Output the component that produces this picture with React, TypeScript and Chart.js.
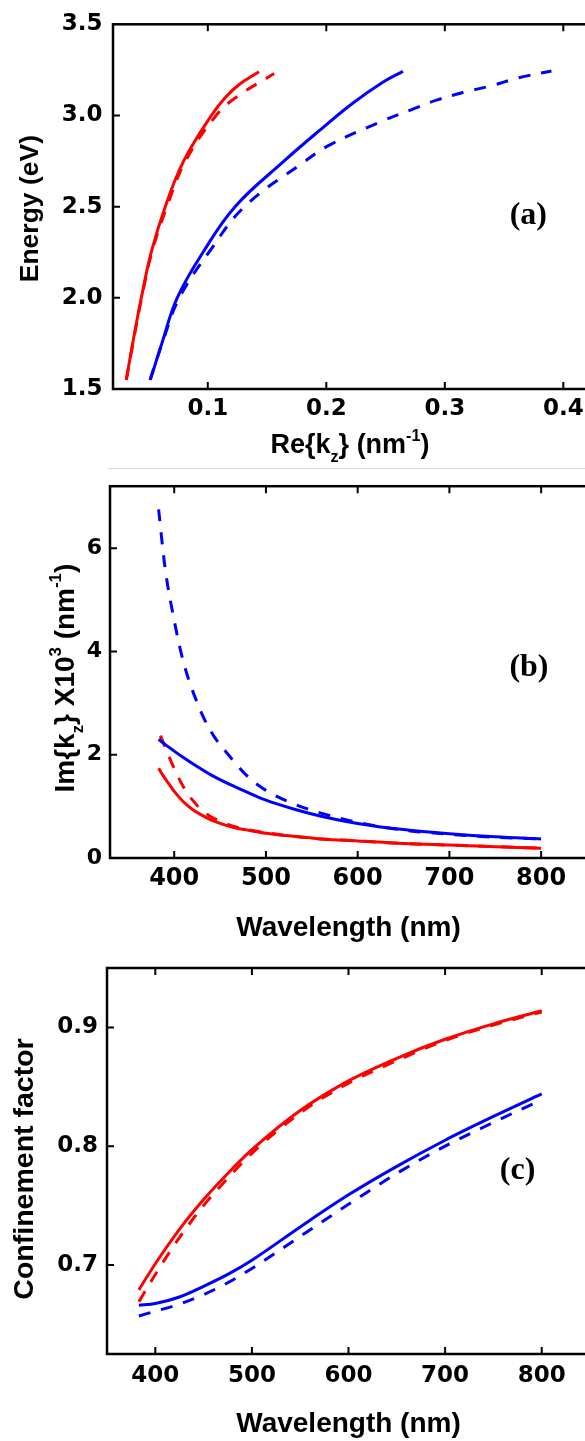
import React, { useEffect, useRef } from 'react';
import { Chart, registerables } from 'chart.js';

Chart.register(...registerables);

const SANS = '"Liberation Sans", Arial, Helvetica, sans-serif';
const TICK_SANS = '"DejaVu Sans", "Liberation Sans", Arial, sans-serif';
const SERIF = '"Liberation Serif", "Times New Roman", Times, serif';
const RED = '#ff0000';
const BLUE = '#0000ff';
const CANVAS_W = 640;

// ---------- Panel (a): Energy (eV) vs Re{kz} (nm^-1) ----------
const A_RED_SOLID_E = [1.55, 1.75, 2.0, 2.25, 2.5, 2.75, 3.0, 3.1, 3.17, 3.24];
const A_RED_SOLID_K = [0.0312, 0.0366, 0.0439, 0.0523, 0.0641, 0.0796, 0.103, 0.115, 0.1265, 0.1432];
const A_RED_DASH_E = [1.55, 1.75, 2.0, 2.25, 2.5, 2.75, 3.0, 3.1, 3.23];
const A_RED_DASH_K = [0.0312, 0.0368, 0.0442, 0.0528, 0.0655, 0.0812, 0.107, 0.124, 0.156];
const A_BLUE_SOLID_E = [1.55, 1.75, 2.0, 2.25, 2.5, 2.748, 2.911, 3.066, 3.184, 3.242];
const A_BLUE_SOLID_K = [0.0515, 0.0612, 0.0742, 0.096, 0.123, 0.164, 0.193, 0.222, 0.248, 0.2647];
const A_BLUE_DASH_E = [1.55, 1.75, 2.0, 2.25, 2.5, 2.744, 2.839, 2.971, 3.031, 3.084, 3.128, 3.164, 3.206, 3.244];
const A_BLUE_DASH_K = [0.0512, 0.0615, 0.076, 0.101, 0.131, 0.181, 0.203, 0.248, 0.2715, 0.293, 0.3165, 0.34, 0.362, 0.39];
const A_X_TICKS = [0.05, 0.1, 0.15, 0.2, 0.25, 0.3, 0.35, 0.4];
const A_Y_TICKS = [1.5, 1.75, 2.0, 2.25, 2.5, 2.75, 3.0, 3.25, 3.5];

// ---------- Panel (b): Im{kz} x10^3 vs wavelength ----------
const B_BLUE_DASH_WL = [383, 390, 400, 410, 425, 440, 460, 480, 500, 530, 560, 600, 650, 700, 750, 800];
const B_BLUE_DASH = [6.75, 5.62, 4.6, 3.8, 3.01, 2.45, 1.98, 1.58, 1.31, 1.05, 0.87, 0.69, 0.54, 0.46, 0.4, 0.37];
const B_BLUE_SOLID_WL = [383, 390, 400, 410, 425, 440, 460, 480, 500, 530, 560, 600, 650, 700, 750, 800];
const B_BLUE_SOLID = [2.3, 2.2, 2.07, 1.945, 1.77, 1.61, 1.43, 1.27, 1.12, 0.95, 0.81, 0.67, 0.55, 0.47, 0.41, 0.37];
const B_RED_SOLID_WL = [383, 387, 392, 400, 410, 420, 430, 440, 450, 465, 480, 500, 530, 560, 600, 650, 700, 750, 800];
const B_RED_SOLID = [1.74, 1.62, 1.49, 1.29, 1.09, 0.94, 0.83, 0.74, 0.67, 0.59, 0.54, 0.48, 0.42, 0.37, 0.33, 0.28, 0.25, 0.22, 0.19];
const B_RED_DASH_WL = [385, 390, 400, 410, 420, 430, 440, 450, 465, 480, 500, 530, 560, 600, 650, 700, 750, 800];
const B_RED_DASH = [2.37, 2.15, 1.73, 1.38, 1.12, 0.93, 0.8, 0.71, 0.61, 0.55, 0.49, 0.42, 0.37, 0.33, 0.28, 0.25, 0.22, 0.19];
const B_X_TICKS = [350, 400, 450, 500, 550, 600, 650, 700, 750, 800];
const B_Y_TICKS = [0, 1, 2, 3, 4, 5, 6, 7];

// ---------- Panel (c): Confinement factor vs wavelength ----------
const C_WL = [383, 400, 425, 450, 475, 500, 550, 600, 650, 700, 750, 800];
const C_RED_SOLID = [0.679, 0.701, 0.73, 0.755, 0.777, 0.797, 0.83, 0.855, 0.874, 0.89, 0.903, 0.914];
const C_RED_DASH = [0.669, 0.692, 0.723, 0.75, 0.773, 0.794, 0.828, 0.853, 0.872, 0.889, 0.902, 0.913];
const C_BLUE_SOLID = [0.666, 0.6675, 0.673, 0.682, 0.692, 0.704, 0.732, 0.759, 0.783, 0.805, 0.825, 0.844];
const C_BLUE_DASH = [0.657, 0.661, 0.667, 0.675, 0.685, 0.697, 0.724, 0.751, 0.777, 0.8, 0.82, 0.839];
const C_X_TICKS = [400, 450, 500, 550, 600, 650, 700, 750, 800];
const C_Y_TICKS = [0.65, 0.7, 0.75, 0.8, 0.85, 0.9];

type Seg = { t: string; s?: 'sub' | 'sup' };

const series = (xs: number[], ys: number[], color: string, dashed: boolean, mode: string) => ({
  data: xs.map((x, i) => ({ x, y: ys[i] })),
  borderColor: color,
  backgroundColor: color,
  borderWidth: 3,
  borderDash: dashed ? [12, 11] : [],
  pointRadius: 0,
  fill: false,
  tension: 0.4,
  cubicInterpolationMode: mode,
});

const isMaj = (v: number, step: number) => Math.abs(v / step - Math.round(v / step)) < 1e-6;

function drawRich(ctx: CanvasRenderingContext2D, segs: Seg[], size: number, cx: number, cy: number, rotate: boolean) {
  const small = size * 0.6;
  const fnt = (sz: number) => `bold ${sz}px ${SANS}`;
  let total = 0;
  const widths = segs.map((sg) => {
    ctx.font = fnt(sg.s ? small : size);
    const w = ctx.measureText(sg.t).width;
    total += w;
    return w;
  });
  ctx.save();
  ctx.translate(cx, cy);
  if (rotate) ctx.rotate(-Math.PI / 2);
  ctx.textAlign = 'left';
  ctx.textBaseline = 'alphabetic';
  ctx.fillStyle = '#000';
  let x = -total / 2;
  segs.forEach((sg, i) => {
    ctx.font = fnt(sg.s ? small : size);
    const dy = sg.s === 'sup' ? -size * 0.45 : sg.s === 'sub' ? size * 0.32 : 0;
    ctx.fillText(sg.t, x, dy);
    x += widths[i];
  });
  ctx.restore();
}

interface PanelSpec {
  top: number; height: number;
  padTop: number; padRight: number; yWidth: number; xHeight: number;
  xMin: number; xMax: number; yMin: number; yMax: number;
  xTicks: number[]; yTicks: number[]; xMajor: number; yMajor: number;
  xDigits: number; yDigits: number;
  xFont: number; yFont: number; xPad: number; yPad: number;
  xTitle: Seg[]; xTitleSize: number; xTitleOffset: number;
  yTitle: Seg[]; yTitleSize: number; yTitleOffset: number; yTitleShift: number;
  tag: string; tagX: number; tagY: number; tagSize: number;
  datasets: any[];
}

const decor = (spec: PanelSpec) => ({
  id: 'decor',
  afterDraw(chart: any) {
    const { ctx, chartArea: ca } = chart;
    const xs = chart.scales.x;
    const ys = chart.scales.y;
    ctx.save();
    ctx.strokeStyle = '#000';
    ctx.lineWidth = 2;
    ctx.beginPath();
    xs.ticks.forEach((t: any) => {
      const px = xs.getPixelForValue(t.value);
      if (px <= ca.left + 1.5 || px >= ca.right - 1.5) return;
      const len = isMaj(t.value, spec.xMajor) ? 7 : 4.5;
      ctx.moveTo(px, ca.bottom);
      ctx.lineTo(px, ca.bottom - len);
      ctx.moveTo(px, ca.top);
      ctx.lineTo(px, ca.top + len);
    });
    ys.ticks.forEach((t: any) => {
      const py = ys.getPixelForValue(t.value);
      if (py <= ca.top + 1.5 || py >= ca.bottom - 1.5) return;
      const len = isMaj(t.value, spec.yMajor) ? 7 : 5;
      ctx.moveTo(ca.left, py);
      ctx.lineTo(ca.left + len, py);
    });
    ctx.stroke();
    ctx.lineWidth = 2.5;
    ctx.strokeRect(ca.left, ca.top, ca.right - ca.left, ca.bottom - ca.top);

    drawRich(ctx, spec.xTitle, spec.xTitleSize, (ca.left + ca.right) / 2, ca.bottom + spec.xTitleOffset, false);
    drawRich(ctx, spec.yTitle, spec.yTitleSize, ca.left - spec.yTitleOffset, (ca.top + ca.bottom) / 2 + spec.yTitleShift, true);

    ctx.fillStyle = '#000';
    ctx.font = `bold ${spec.tagSize}px ${SERIF}`;
    ctx.textAlign = 'center';
    ctx.textBaseline = 'middle';
    ctx.fillText(spec.tag, xs.getPixelForValue(spec.tagX), ys.getPixelForValue(spec.tagY));
    ctx.restore();
  },
});

function buildConfig(spec: PanelSpec): any {
  return {
    type: 'line',
    data: { datasets: spec.datasets },
    options: {
      responsive: false,
      animation: false,
      devicePixelRatio: 1,
      events: [],
      layout: { padding: { top: spec.padTop, right: spec.padRight, left: 0, bottom: 0 } },
      plugins: { legend: { display: false }, tooltip: { enabled: false } },
      scales: {
        x: {
          type: 'linear',
          min: spec.xMin,
          max: spec.xMax,
          afterBuildTicks: (s: any) => { s.ticks = spec.xTicks.map((v) => ({ value: v })); },
          afterFit: (s: any) => { s.height = spec.xHeight; },
          grid: { display: false, drawTicks: false },
          border: { display: false },
          ticks: {
            autoSkip: false, maxRotation: 0, minRotation: 0,
            padding: spec.xPad, color: '#000',
            font: { family: TICK_SANS, size: spec.xFont, weight: 'bold' },
            callback: (v: number) => (isMaj(v, spec.xMajor) ? v.toFixed(spec.xDigits) : null),
          },
        },
        y: {
          type: 'linear',
          min: spec.yMin,
          max: spec.yMax,
          afterBuildTicks: (s: any) => { s.ticks = spec.yTicks.map((v) => ({ value: v })); },
          afterFit: (s: any) => { s.width = spec.yWidth; },
          grid: { display: false, drawTicks: false },
          border: { display: false },
          ticks: {
            autoSkip: false,
            padding: spec.yPad, color: '#000',
            font: { family: TICK_SANS, size: spec.yFont, weight: 'bold' },
            callback: (v: number) => (isMaj(v, spec.yMajor) ? v.toFixed(spec.yDigits) : null),
          },
        },
      },
    },
    plugins: [decor(spec)],
  };
}

const WL_TITLE: Seg[] = [{ t: 'Wavelength (nm)' }];

const PANEL_A: PanelSpec = {
  top: 0, height: 465, padTop: 22, padRight: CANVAS_W - 587, yWidth: 113, xHeight: 76,
  xMin: 0.02, xMax: 0.42, yMin: 1.5, yMax: 3.5,
  xTicks: A_X_TICKS, yTicks: A_Y_TICKS, xMajor: 0.1, yMajor: 0.5, xDigits: 1, yDigits: 1,
  xFont: 23, yFont: 23, xPad: 6.5, yPad: 10.5,
  xTitle: [{ t: 'Re{k' }, { t: 'z', s: 'sub' }, { t: '} (nm' }, { t: '-1', s: 'sup' }, { t: ')' }],
  xTitleSize: 27, xTitleOffset: 64,
  yTitle: [{ t: 'Energy (eV)' }], yTitleSize: 26.5, yTitleOffset: 75, yTitleShift: 2,
  tag: '(a)', tagX: 0.3705, tagY: 2.448, tagSize: 32,
  datasets: [
    series(A_RED_SOLID_K, A_RED_SOLID_E, RED, false, 'default'),
    series(A_RED_DASH_K, A_RED_DASH_E, RED, true, 'default'),
    series(A_BLUE_SOLID_K, A_BLUE_SOLID_E, BLUE, false, 'default'),
    series(A_BLUE_DASH_K, A_BLUE_DASH_E, BLUE, true, 'default'),
  ],
};

const PANEL_B: PanelSpec = {
  top: 465, height: 480, padTop: 7, padRight: CANVAS_W - 587, yWidth: 110, xHeight: 87,
  xMin: 330, xMax: 850, yMin: 0, yMax: 7.2,
  xTicks: B_X_TICKS, yTicks: B_Y_TICKS, xMajor: 100, yMajor: 2, xDigits: 0, yDigits: 0,
  xFont: 24, yFont: 22, xPad: 6.5, yPad: 8,
  xTitle: WL_TITLE, xTitleSize: 28, xTitleOffset: 77.5,
  yTitle: [{ t: 'Im{k' }, { t: 'z', s: 'sub' }, { t: '} X10' }, { t: '3', s: 'sup' }, { t: ' (nm' }, { t: '-1', s: 'sup' }, { t: ')' }],
  yTitleSize: 28, yTitleOffset: 36, yTitleShift: 6,
  tag: '(b)', tagX: 786.7, tagY: 3.69, tagSize: 32,
  datasets: [
    series(B_BLUE_DASH_WL, B_BLUE_DASH, BLUE, true, 'monotone'),
    series(B_BLUE_SOLID_WL, B_BLUE_SOLID, BLUE, false, 'monotone'),
    series(B_RED_DASH_WL, B_RED_DASH, RED, true, 'monotone'),
    series(B_RED_SOLID_WL, B_RED_SOLID, RED, false, 'monotone'),
  ],
};

const PANEL_C: PanelSpec = {
  top: 945, height: 496, padTop: 23, padRight: CANVAS_W - 590, yWidth: 107, xHeight: 87,
  xMin: 350, xMax: 850, yMin: 0.625, yMax: 0.95,
  xTicks: C_X_TICKS, yTicks: C_Y_TICKS, xMajor: 100, yMajor: 0.1, xDigits: 0, yDigits: 1,
  xFont: 23, yFont: 23, xPad: 8, yPad: 9,
  xTitle: WL_TITLE, xTitleSize: 28, xTitleOffset: 78,
  yTitle: [{ t: 'Confinement factor' }], yTitleSize: 28.5, yTitleOffset: 74, yTitleShift: 8,
  tag: '(c)', tagX: 775, tagY: 0.779, tagSize: 32,
  datasets: [
    series(C_WL, C_RED_SOLID, RED, false, 'monotone'),
    series(C_WL, C_RED_DASH, RED, true, 'monotone'),
    series(C_WL, C_BLUE_SOLID, BLUE, false, 'monotone'),
    series(C_WL, C_BLUE_DASH, BLUE, true, 'monotone'),
  ],
};

function Panel({ spec }: { spec: PanelSpec }) {
  const ref = useRef<HTMLCanvasElement>(null);
  useEffect(() => {
    if (!ref.current) return;
    const chart = new Chart(ref.current, buildConfig(spec));
    return () => chart.destroy();
  }, [spec]);
  return (
    <canvas
      ref={ref}
      width={CANVAS_W}
      height={spec.height}
      style={{ position: 'absolute', left: 0, top: spec.top, width: CANVAS_W, height: spec.height, display: 'block' }}
    />
  );
}

export default function App() {
  return (
    <div style={{ position: 'absolute', left: 0, top: 0, width: 585, height: 1441, overflow: 'hidden', background: '#fff' }}>
      <Panel spec={PANEL_A} />
      <Panel spec={PANEL_B} />
      <Panel spec={PANEL_C} />
      <div style={{ position: 'absolute', left: 108, top: 468, width: 477, height: 1, background: '#d8d8d8' }} />
    </div>
  );
}
